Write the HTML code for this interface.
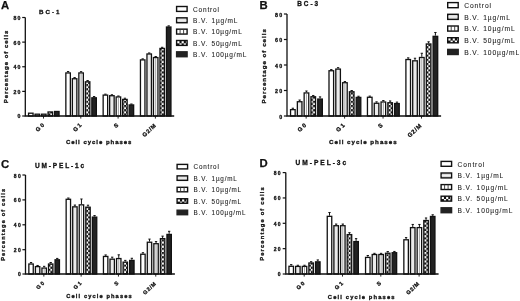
<!DOCTYPE html>
<html><head><meta charset="utf-8"><title>Cell cycle phases</title>
<style>
html,body{margin:0;padding:0;background:#fff;}
body{width:520px;height:301px;overflow:hidden;font-family:"Liberation Sans", sans-serif;}
svg{display:block;filter:grayscale(1);font-family:"Liberation Sans", sans-serif;}
</style></head><body>
<svg width="520" height="301" viewBox="0 0 520 301">
<defs>
<pattern id="p1" width="4" height="1.6" patternUnits="userSpaceOnUse"><rect width="4" height="1.6" fill="#e9e9e9"/></pattern>
<pattern id="p2" width="3.4" height="4" patternUnits="userSpaceOnUse"><rect width="3.4" height="4" fill="#fff"/><rect x="1.2" width="0.6" height="4" fill="#999"/></pattern>
<pattern id="p3" width="4.2" height="4.2" patternUnits="userSpaceOnUse"><rect width="4.2" height="4.2" fill="#111"/><rect x="0" y="0" width="2.1" height="2.1" fill="#fff"/><rect x="2.1" y="2.1" width="2.1" height="2.1" fill="#fff"/></pattern>
</defs>
<g id="panelA"><text x="1" y="9.2" font-size="11.3" font-weight="bold" text-anchor="start" letter-spacing="0" fill="#111"  stroke="#111" stroke-width="0.25">A</text>
<text x="39" y="14" font-size="6.2" font-weight="bold" text-anchor="start" letter-spacing="2" fill="#111"  stroke="#111" stroke-width="0.3">BC-1</text>
<rect x="28.55" y="113.2" width="4.5" height="2.8" fill="#fff" stroke="#111" stroke-width="1.3"/>
<rect x="35.05" y="114.19" width="4.5" height="1.81" fill="#ebebeb" stroke="#111" stroke-width="1.3"/>
<rect x="41.55" y="114.19" width="4.5" height="1.81" fill="#fff" stroke="#111" stroke-width="1.3"/>
<rect x="48.05" y="111.97" width="4.5" height="4.03" fill="url(#p3)" stroke="#111" stroke-width="1.3"/>
<rect x="54.55" y="111.48" width="4.5" height="4.52" fill="#222" stroke="#111" stroke-width="1.3"/>
<rect x="65.85" y="72.94" width="4.5" height="43.06" fill="#fff" stroke="#111" stroke-width="1.3"/>
<path d="M68.1 72.29V71.55M66.95 71.55H69.25" stroke="#111" stroke-width="1.0" fill="none"/>
<rect x="72.35" y="78.73" width="4.5" height="37.27" fill="#ebebeb" stroke="#111" stroke-width="1.3"/>
<path d="M74.6 78.08V77.58M73.45 77.58H75.75" stroke="#111" stroke-width="1.0" fill="none"/>
<rect x="78.85" y="72.94" width="4.5" height="43.06" fill="#fff" stroke="#111" stroke-width="1.3"/>
<path d="M81.1 73.39V115.4" stroke="#8a8a8a" stroke-width="0.8"/>
<path d="M81.1 72.29V71.68M79.95 71.68H82.25" stroke="#111" stroke-width="1.0" fill="none"/>
<rect x="85.35" y="81.81" width="4.5" height="34.19" fill="url(#p3)" stroke="#111" stroke-width="1.3"/>
<path d="M87.6 81.16V80.54M86.45 80.54H88.75" stroke="#111" stroke-width="1.0" fill="none"/>
<rect x="91.85" y="97.81" width="4.5" height="18.19" fill="#222" stroke="#111" stroke-width="1.3"/>
<path d="M94.1 97.16V96.55M92.95 96.55H95.25" stroke="#111" stroke-width="1.0" fill="none"/>
<rect x="103.15" y="95.1" width="4.5" height="20.9" fill="#fff" stroke="#111" stroke-width="1.3"/>
<path d="M105.4 94.45V94.15M104.25 94.15H106.55" stroke="#111" stroke-width="1.0" fill="none"/>
<rect x="109.65" y="95.72" width="4.5" height="20.28" fill="#ebebeb" stroke="#111" stroke-width="1.3"/>
<path d="M111.9 95.07V94.76M110.75 94.76H113.05" stroke="#111" stroke-width="1.0" fill="none"/>
<rect x="116.15" y="96.95" width="4.5" height="19.05" fill="#fff" stroke="#111" stroke-width="1.3"/>
<path d="M118.4 97.4V115.4" stroke="#8a8a8a" stroke-width="0.8"/>
<path d="M118.4 96.3V95.99M117.25 95.99H119.55" stroke="#111" stroke-width="1.0" fill="none"/>
<rect x="122.65" y="99.41" width="4.5" height="16.59" fill="url(#p3)" stroke="#111" stroke-width="1.3"/>
<path d="M124.9 98.76V98.21M123.75 98.21H126.05" stroke="#111" stroke-width="1.0" fill="none"/>
<rect x="129.15" y="104.95" width="4.5" height="11.05" fill="#222" stroke="#111" stroke-width="1.3"/>
<path d="M131.4 104.3V104M130.25 104H132.55" stroke="#111" stroke-width="1.0" fill="none"/>
<rect x="140.45" y="59.89" width="4.5" height="56.11" fill="#fff" stroke="#111" stroke-width="1.3"/>
<path d="M142.7 59.24V58.87M141.55 58.87H143.85" stroke="#111" stroke-width="1.0" fill="none"/>
<rect x="146.95" y="53.98" width="4.5" height="62.02" fill="#ebebeb" stroke="#111" stroke-width="1.3"/>
<path d="M149.2 53.33V52.96M148.05 52.96H150.35" stroke="#111" stroke-width="1.0" fill="none"/>
<rect x="153.45" y="57.55" width="4.5" height="58.45" fill="#fff" stroke="#111" stroke-width="1.3"/>
<path d="M155.7 58V115.4" stroke="#8a8a8a" stroke-width="0.8"/>
<path d="M155.7 56.9V56.53M154.55 56.53H156.85" stroke="#111" stroke-width="1.0" fill="none"/>
<rect x="159.95" y="48.44" width="4.5" height="67.56" fill="url(#p3)" stroke="#111" stroke-width="1.3"/>
<path d="M162.2 47.79V47.3M161.05 47.3H163.35" stroke="#111" stroke-width="1.0" fill="none"/>
<rect x="166.45" y="27.02" width="4.5" height="88.98" fill="#222" stroke="#111" stroke-width="1.3"/>
<path d="M168.7 26.37V25.87M167.55 25.87H169.85" stroke="#111" stroke-width="1.0" fill="none"/>
<path d="M25.3 17.5V116H174.2" stroke="#111" stroke-width="1.3" fill="none"/>
<path d="M22.2 116H25.3" stroke="#111" stroke-width="1.2"/>
<text x="21.8" y="118.47" font-size="5.2" font-weight="bold" text-anchor="end" letter-spacing="1.3" fill="#111"  stroke="#111" stroke-width="0.3">0</text>
<path d="M22.2 91.38H25.3" stroke="#111" stroke-width="1.2"/>
<text x="21.8" y="93.85" font-size="5.2" font-weight="bold" text-anchor="end" letter-spacing="1.3" fill="#111"  stroke="#111" stroke-width="0.3">20</text>
<path d="M22.2 66.75H25.3" stroke="#111" stroke-width="1.2"/>
<text x="21.8" y="69.22" font-size="5.2" font-weight="bold" text-anchor="end" letter-spacing="1.3" fill="#111"  stroke="#111" stroke-width="0.3">40</text>
<path d="M22.2 42.12H25.3" stroke="#111" stroke-width="1.2"/>
<text x="21.8" y="44.6" font-size="5.2" font-weight="bold" text-anchor="end" letter-spacing="1.3" fill="#111"  stroke="#111" stroke-width="0.3">60</text>
<path d="M22.2 17.5H25.3" stroke="#111" stroke-width="1.2"/>
<text x="21.8" y="19.97" font-size="5.2" font-weight="bold" text-anchor="end" letter-spacing="1.3" fill="#111"  stroke="#111" stroke-width="0.3">80</text>
<path d="M43.5 116V118.6" stroke="#111" stroke-width="0.9"/>
<text transform="translate(45.81,124.57) rotate(-43)" stroke="#111" stroke-width="0.3" font-size="5.7" font-weight="bold" text-anchor="end" letter-spacing="1.65" fill="#111">G0</text>
<path d="M80.8 116V118.6" stroke="#111" stroke-width="0.9"/>
<text transform="translate(83.11,124.57) rotate(-43)" stroke="#111" stroke-width="0.3" font-size="5.7" font-weight="bold" text-anchor="end" letter-spacing="1.65" fill="#111">G1</text>
<path d="M118.1 116V118.6" stroke="#111" stroke-width="0.9"/>
<text transform="translate(119.73,124.73) rotate(-43)" stroke="#111" stroke-width="0.3" font-size="5.7" font-weight="bold" text-anchor="end" letter-spacing="1.2" fill="#111">S</text>
<path d="M155.4 116V118.6" stroke="#111" stroke-width="0.9"/>
<text transform="translate(156.75,125.79) rotate(-43)" stroke="#111" stroke-width="0.3" font-size="5.7" font-weight="bold" text-anchor="end" letter-spacing="0.75" fill="#111">G2/M</text>
<text x="99.15" y="144" font-size="6" font-weight="bold" text-anchor="middle" letter-spacing="0.97" fill="#111"  stroke="#111" stroke-width="0.3">Cell cycle phases</text>
<text transform="translate(7.5,66.5) rotate(-90)" font-size="6" font-weight="bold" text-anchor="middle" letter-spacing="0.99" fill="#111" stroke="#111" stroke-width="0.3">Percentage of cells</text>
<rect x="176.6" y="6.5" width="10.5" height="4.9" fill="#fff" stroke="#111" stroke-width="1.4"/>
<text x="193.1" y="11.7" font-size="6.5" font-weight="normal" text-anchor="start" letter-spacing="0.82" fill="#222" word-spacing="0.8" stroke="#222" stroke-width="0.08">Control</text>
<rect x="176.6" y="17.83" width="10.5" height="4.9" fill="#dcdcdc" stroke="#111" stroke-width="1.4"/>
<path d="M177.3 20.28H186.4" stroke="#f4f4f4" stroke-width="0.9"/>
<text x="193.1" y="23.03" font-size="6.5" font-weight="normal" text-anchor="start" letter-spacing="0.82" fill="#222" word-spacing="0.8" stroke="#222" stroke-width="0.08">B.V. 1µg/mL</text>
<rect x="176.6" y="29.16" width="10.5" height="4.9" fill="#fff" stroke="#111" stroke-width="1.4"/>
<path d="M180.1 29.16V34.06M183.6 29.16V34.06" stroke="#333" stroke-width="0.9"/>
<text x="193.1" y="34.36" font-size="6.5" font-weight="normal" text-anchor="start" letter-spacing="0.82" fill="#222" word-spacing="0.8" stroke="#222" stroke-width="0.08">B.V. 10µg/mL</text>
<rect x="176.6" y="40.49" width="10.5" height="4.9" fill="#111" stroke="#111" stroke-width="1.4"/>
<rect x="177.3" y="41.19" width="2.15" height="2.15" fill="#fff"/>
<rect x="181.6" y="41.19" width="2.15" height="2.15" fill="#fff"/>
<rect x="185.9" y="41.19" width="0.5" height="2.15" fill="#fff"/>
<rect x="179.45" y="43.34" width="2.15" height="1.35" fill="#fff"/>
<rect x="183.75" y="43.34" width="2.15" height="1.35" fill="#fff"/>
<text x="193.1" y="45.69" font-size="6.5" font-weight="normal" text-anchor="start" letter-spacing="0.82" fill="#222" word-spacing="0.8" stroke="#222" stroke-width="0.08">B.V. 50µg/mL</text>
<rect x="176.6" y="51.82" width="10.5" height="4.9" fill="#222" stroke="#222" stroke-width="1.4"/>
<text x="193.1" y="57.02" font-size="6.5" font-weight="normal" text-anchor="start" letter-spacing="0.82" fill="#222" word-spacing="0.8" stroke="#222" stroke-width="0.08">B.V. 100µg/mL</text></g>
<g id="panelB"><text x="259.4" y="9" font-size="11.3" font-weight="bold" text-anchor="start" letter-spacing="0" fill="#111"  stroke="#111" stroke-width="0.25">B</text>
<text x="297.2" y="6" font-size="6.4" font-weight="bold" text-anchor="start" letter-spacing="2" fill="#111"  stroke="#111" stroke-width="0.3">BC-3</text>
<rect x="290.55" y="109.64" width="4.6" height="6.36" fill="#fff" stroke="#111" stroke-width="1.3"/>
<path d="M292.85 108.99V108.22M291.7 108.22H294" stroke="#111" stroke-width="1.0" fill="none"/>
<rect x="297.35" y="101.73" width="4.6" height="14.27" fill="#ebebeb" stroke="#111" stroke-width="1.3"/>
<path d="M299.65 101.08V100.06M298.5 100.06H300.8" stroke="#111" stroke-width="1.0" fill="none"/>
<rect x="304.15" y="92.94" width="4.6" height="23.07" fill="#fff" stroke="#111" stroke-width="1.3"/>
<path d="M306.45 93.38V115.4" stroke="#8a8a8a" stroke-width="0.8"/>
<path d="M306.45 92.28V91.01M305.3 91.01H307.6" stroke="#111" stroke-width="1.0" fill="none"/>
<rect x="310.95" y="96.76" width="4.6" height="19.24" fill="url(#p3)" stroke="#111" stroke-width="1.3"/>
<path d="M313.25 96.11V95.47M312.1 95.47H314.4" stroke="#111" stroke-width="1.0" fill="none"/>
<rect x="317.75" y="99.06" width="4.6" height="16.95" fill="#222" stroke="#111" stroke-width="1.3"/>
<path d="M320.05 98.41V96.88M318.9 96.88H321.2" stroke="#111" stroke-width="1.0" fill="none"/>
<rect x="329" y="70.75" width="4.6" height="45.25" fill="#fff" stroke="#111" stroke-width="1.3"/>
<path d="M331.3 70.1V69.59M330.15 69.59H332.45" stroke="#111" stroke-width="1.0" fill="none"/>
<rect x="335.8" y="69.09" width="4.6" height="46.91" fill="#ebebeb" stroke="#111" stroke-width="1.3"/>
<path d="M338.1 68.44V67.68M336.95 67.68H339.25" stroke="#111" stroke-width="1.0" fill="none"/>
<rect x="342.6" y="82.74" width="4.6" height="33.26" fill="#fff" stroke="#111" stroke-width="1.3"/>
<path d="M344.9 83.19V115.4" stroke="#8a8a8a" stroke-width="0.8"/>
<path d="M344.9 82.09V81.58M343.75 81.58H346.05" stroke="#111" stroke-width="1.0" fill="none"/>
<rect x="349.4" y="91.79" width="4.6" height="24.21" fill="url(#p3)" stroke="#111" stroke-width="1.3"/>
<path d="M351.7 91.14V90.5M350.55 90.5H352.85" stroke="#111" stroke-width="1.0" fill="none"/>
<rect x="356.2" y="97.4" width="4.6" height="18.6" fill="#222" stroke="#111" stroke-width="1.3"/>
<path d="M358.5 96.75V96.24M357.35 96.24H359.65" stroke="#111" stroke-width="1.0" fill="none"/>
<rect x="367.45" y="97.27" width="4.6" height="18.73" fill="#fff" stroke="#111" stroke-width="1.3"/>
<path d="M369.75 96.62V96.11M368.6 96.11H370.9" stroke="#111" stroke-width="1.0" fill="none"/>
<rect x="374.25" y="103.26" width="4.6" height="12.74" fill="#ebebeb" stroke="#111" stroke-width="1.3"/>
<path d="M376.55 102.61V101.85M375.4 101.85H377.7" stroke="#111" stroke-width="1.0" fill="none"/>
<rect x="381.05" y="101.99" width="4.6" height="14.01" fill="#fff" stroke="#111" stroke-width="1.3"/>
<path d="M383.35 102.44V115.4" stroke="#8a8a8a" stroke-width="0.8"/>
<path d="M383.35 101.34V100.57M382.2 100.57H384.5" stroke="#111" stroke-width="1.0" fill="none"/>
<rect x="387.85" y="102.75" width="4.6" height="13.25" fill="url(#p3)" stroke="#111" stroke-width="1.3"/>
<path d="M390.15 102.1V100.96M389 100.96H391.3" stroke="#111" stroke-width="1.0" fill="none"/>
<rect x="394.65" y="103.52" width="4.6" height="12.48" fill="#222" stroke="#111" stroke-width="1.3"/>
<path d="M396.95 102.87V102.1M395.8 102.1H398.1" stroke="#111" stroke-width="1.0" fill="none"/>
<rect x="405.9" y="59.53" width="4.6" height="56.47" fill="#fff" stroke="#111" stroke-width="1.3"/>
<path d="M408.2 58.88V57.86M407.05 57.86H409.35" stroke="#111" stroke-width="1.0" fill="none"/>
<rect x="412.7" y="60.81" width="4.6" height="55.19" fill="#ebebeb" stroke="#111" stroke-width="1.3"/>
<path d="M415 60.16V58.24M413.85 58.24H416.15" stroke="#111" stroke-width="1.0" fill="none"/>
<rect x="419.5" y="57.49" width="4.6" height="58.51" fill="#fff" stroke="#111" stroke-width="1.3"/>
<path d="M421.8 57.94V115.4" stroke="#8a8a8a" stroke-width="0.8"/>
<path d="M421.8 56.84V53.27M420.65 53.27H422.95" stroke="#111" stroke-width="1.0" fill="none"/>
<rect x="426.3" y="43.98" width="4.6" height="72.02" fill="url(#p3)" stroke="#111" stroke-width="1.3"/>
<path d="M428.6 43.33V41.8M427.45 41.8H429.75" stroke="#111" stroke-width="1.0" fill="none"/>
<rect x="433.1" y="36.33" width="4.6" height="79.67" fill="#222" stroke="#111" stroke-width="1.3"/>
<path d="M435.4 35.68V32.49M434.25 32.49H436.55" stroke="#111" stroke-width="1.0" fill="none"/>
<path d="M287 14V116H441.1" stroke="#111" stroke-width="1.3" fill="none"/>
<path d="M283.9 116H287" stroke="#111" stroke-width="1.2"/>
<text x="283.55" y="118.51" font-size="5.3" font-weight="bold" text-anchor="end" letter-spacing="1.35" fill="#111"  stroke="#111" stroke-width="0.3">0</text>
<path d="M283.9 90.5H287" stroke="#111" stroke-width="1.2"/>
<text x="283.55" y="93.01" font-size="5.3" font-weight="bold" text-anchor="end" letter-spacing="1.35" fill="#111"  stroke="#111" stroke-width="0.3">20</text>
<path d="M283.9 65H287" stroke="#111" stroke-width="1.2"/>
<text x="283.55" y="67.51" font-size="5.3" font-weight="bold" text-anchor="end" letter-spacing="1.35" fill="#111"  stroke="#111" stroke-width="0.3">40</text>
<path d="M283.9 39.5H287" stroke="#111" stroke-width="1.2"/>
<text x="283.55" y="42.01" font-size="5.3" font-weight="bold" text-anchor="end" letter-spacing="1.35" fill="#111"  stroke="#111" stroke-width="0.3">60</text>
<path d="M283.9 14H287" stroke="#111" stroke-width="1.2"/>
<text x="283.55" y="16.51" font-size="5.3" font-weight="bold" text-anchor="end" letter-spacing="1.35" fill="#111"  stroke="#111" stroke-width="0.3">80</text>
<path d="M306.15 116V118.6" stroke="#111" stroke-width="0.9"/>
<text transform="translate(307.86,124.77) rotate(-43)" stroke="#111" stroke-width="0.3" font-size="5.8" font-weight="bold" text-anchor="end" letter-spacing="1.65" fill="#111">G0</text>
<path d="M344.6 116V118.6" stroke="#111" stroke-width="0.9"/>
<text transform="translate(346.31,124.77) rotate(-43)" stroke="#111" stroke-width="0.3" font-size="5.8" font-weight="bold" text-anchor="end" letter-spacing="1.65" fill="#111">G1</text>
<path d="M383.05 116V118.6" stroke="#111" stroke-width="0.9"/>
<text transform="translate(384.08,124.93) rotate(-43)" stroke="#111" stroke-width="0.3" font-size="5.8" font-weight="bold" text-anchor="end" letter-spacing="1.2" fill="#111">S</text>
<path d="M421.5 116V118.6" stroke="#111" stroke-width="0.9"/>
<text transform="translate(422.25,125.99) rotate(-43)" stroke="#111" stroke-width="0.3" font-size="5.8" font-weight="bold" text-anchor="end" letter-spacing="0.75" fill="#111">G2/M</text>
<text x="363.35" y="144" font-size="6.2" font-weight="bold" text-anchor="middle" letter-spacing="1" fill="#111"  stroke="#111" stroke-width="0.3">Cell cycle phases</text>
<text transform="translate(266,65.8) rotate(-90)" font-size="6.2" font-weight="bold" text-anchor="middle" letter-spacing="1" fill="#111" stroke="#111" stroke-width="0.3">Percentage of cells</text>
<rect x="447.7" y="2.6" width="10.5" height="5.1" fill="#fff" stroke="#111" stroke-width="1.4"/>
<text x="464.2" y="8" font-size="6.7" font-weight="normal" text-anchor="start" letter-spacing="0.87" fill="#222" word-spacing="0.8" stroke="#222" stroke-width="0.08">Control</text>
<rect x="447.7" y="14.3" width="10.5" height="5.1" fill="#dcdcdc" stroke="#111" stroke-width="1.4"/>
<path d="M448.4 16.85H457.5" stroke="#f4f4f4" stroke-width="0.9"/>
<text x="464.2" y="19.7" font-size="6.7" font-weight="normal" text-anchor="start" letter-spacing="0.87" fill="#222" word-spacing="0.8" stroke="#222" stroke-width="0.08">B.V. 1µg/mL</text>
<rect x="447.7" y="26" width="10.5" height="5.1" fill="#fff" stroke="#111" stroke-width="1.4"/>
<path d="M451.2 26V31.1M454.7 26V31.1" stroke="#333" stroke-width="0.9"/>
<text x="464.2" y="31.4" font-size="6.7" font-weight="normal" text-anchor="start" letter-spacing="0.87" fill="#222" word-spacing="0.8" stroke="#222" stroke-width="0.08">B.V. 10µg/mL</text>
<rect x="447.7" y="37.7" width="10.5" height="5.1" fill="#111" stroke="#111" stroke-width="1.4"/>
<rect x="448.4" y="38.4" width="2.15" height="2.15" fill="#fff"/>
<rect x="452.7" y="38.4" width="2.15" height="2.15" fill="#fff"/>
<rect x="457" y="38.4" width="0.5" height="2.15" fill="#fff"/>
<rect x="450.55" y="40.55" width="2.15" height="1.55" fill="#fff"/>
<rect x="454.85" y="40.55" width="2.15" height="1.55" fill="#fff"/>
<text x="464.2" y="43.1" font-size="6.7" font-weight="normal" text-anchor="start" letter-spacing="0.87" fill="#222" word-spacing="0.8" stroke="#222" stroke-width="0.08">B.V. 50µg/mL</text>
<rect x="447.7" y="49.4" width="10.5" height="5.1" fill="#222" stroke="#222" stroke-width="1.4"/>
<text x="464.2" y="54.8" font-size="6.7" font-weight="normal" text-anchor="start" letter-spacing="0.87" fill="#222" word-spacing="0.8" stroke="#222" stroke-width="0.08">B.V. 100µg/mL</text></g>
<g id="panelC"><text x="1" y="167.8" font-size="11.3" font-weight="bold" text-anchor="start" letter-spacing="0" fill="#111"  stroke="#111" stroke-width="0.25">C</text>
<text x="35" y="168" font-size="6.5" font-weight="bold" text-anchor="start" letter-spacing="1.85" fill="#111"  stroke="#111" stroke-width="0.3">UM-PEL-1c</text>
<rect x="28.85" y="264.01" width="4.4" height="9.99" fill="#fff" stroke="#111" stroke-width="1.3"/>
<path d="M31.05 263.36V262.49M29.9 262.49H32.2" stroke="#111" stroke-width="1.0" fill="none"/>
<rect x="35.4" y="266.61" width="4.4" height="7.39" fill="#ebebeb" stroke="#111" stroke-width="1.3"/>
<path d="M37.6 265.96V265.46M36.45 265.46H38.75" stroke="#111" stroke-width="1.0" fill="none"/>
<rect x="41.95" y="268.09" width="4.4" height="5.91" fill="#fff" stroke="#111" stroke-width="1.3"/>
<path d="M44.15 268.54V273.4" stroke="#8a8a8a" stroke-width="0.8"/>
<path d="M44.15 267.44V266.33M43 266.33H45.3" stroke="#111" stroke-width="1.0" fill="none"/>
<rect x="48.5" y="264.01" width="4.4" height="9.99" fill="url(#p3)" stroke="#111" stroke-width="1.3"/>
<path d="M50.7 263.36V262.49M49.55 262.49H51.85" stroke="#111" stroke-width="1.0" fill="none"/>
<rect x="55.05" y="259.8" width="4.4" height="14.2" fill="#222" stroke="#111" stroke-width="1.3"/>
<path d="M57.25 259.15V258.41M56.1 258.41H58.4" stroke="#111" stroke-width="1.0" fill="none"/>
<rect x="66.15" y="199.29" width="4.4" height="74.71" fill="#fff" stroke="#111" stroke-width="1.3"/>
<path d="M68.35 198.64V198.02M67.2 198.02H69.5" stroke="#111" stroke-width="1.0" fill="none"/>
<rect x="72.7" y="206.84" width="4.4" height="67.16" fill="#ebebeb" stroke="#111" stroke-width="1.3"/>
<path d="M74.9 206.19V205.07M73.75 205.07H76.05" stroke="#111" stroke-width="1.0" fill="none"/>
<rect x="79.25" y="204.85" width="4.4" height="69.15" fill="#fff" stroke="#111" stroke-width="1.3"/>
<path d="M81.45 205.3V273.4" stroke="#8a8a8a" stroke-width="0.8"/>
<path d="M81.45 204.2V199.01M80.3 199.01H82.6" stroke="#111" stroke-width="1.0" fill="none"/>
<rect x="85.8" y="207.21" width="4.4" height="66.79" fill="url(#p3)" stroke="#111" stroke-width="1.3"/>
<path d="M88 206.56V205.19M86.85 205.19H89.15" stroke="#111" stroke-width="1.0" fill="none"/>
<rect x="92.35" y="217.11" width="4.4" height="56.89" fill="#222" stroke="#111" stroke-width="1.3"/>
<path d="M94.55 216.46V215.59M93.4 215.59H95.7" stroke="#111" stroke-width="1.0" fill="none"/>
<rect x="103.45" y="256.46" width="4.4" height="17.54" fill="#fff" stroke="#111" stroke-width="1.3"/>
<path d="M105.65 255.81V254.94M104.5 254.94H106.8" stroke="#111" stroke-width="1.0" fill="none"/>
<rect x="110" y="259.18" width="4.4" height="14.82" fill="#ebebeb" stroke="#111" stroke-width="1.3"/>
<path d="M112.2 258.53V257.17M111.05 257.17H113.35" stroke="#111" stroke-width="1.0" fill="none"/>
<rect x="116.55" y="258.56" width="4.4" height="15.44" fill="#fff" stroke="#111" stroke-width="1.3"/>
<path d="M118.75 259.01V273.4" stroke="#8a8a8a" stroke-width="0.8"/>
<path d="M118.75 257.91V254.82M117.6 254.82H119.9" stroke="#111" stroke-width="1.0" fill="none"/>
<rect x="123.1" y="262.15" width="4.4" height="11.85" fill="url(#p3)" stroke="#111" stroke-width="1.3"/>
<path d="M125.3 261.5V260.39M124.15 260.39H126.45" stroke="#111" stroke-width="1.0" fill="none"/>
<rect x="129.65" y="260.42" width="4.4" height="13.58" fill="#222" stroke="#111" stroke-width="1.3"/>
<path d="M131.85 259.77V258.28M130.7 258.28H133" stroke="#111" stroke-width="1.0" fill="none"/>
<rect x="140.75" y="254.23" width="4.4" height="19.77" fill="#fff" stroke="#111" stroke-width="1.3"/>
<path d="M142.95 253.58V252.72M141.8 252.72H144.1" stroke="#111" stroke-width="1.0" fill="none"/>
<rect x="147.3" y="242.23" width="4.4" height="31.77" fill="#ebebeb" stroke="#111" stroke-width="1.3"/>
<path d="M149.5 241.58V239.1M148.35 239.1H150.65" stroke="#111" stroke-width="1.0" fill="none"/>
<rect x="153.85" y="243.71" width="4.4" height="30.29" fill="#fff" stroke="#111" stroke-width="1.3"/>
<path d="M156.05 244.16V273.4" stroke="#8a8a8a" stroke-width="0.8"/>
<path d="M156.05 243.06V241.58M154.9 241.58H157.2" stroke="#111" stroke-width="1.0" fill="none"/>
<rect x="160.4" y="238.64" width="4.4" height="35.36" fill="url(#p3)" stroke="#111" stroke-width="1.3"/>
<path d="M162.6 237.99V236.13M161.45 236.13H163.75" stroke="#111" stroke-width="1.0" fill="none"/>
<rect x="166.95" y="234.43" width="4.4" height="39.57" fill="#222" stroke="#111" stroke-width="1.3"/>
<path d="M169.15 233.78V231.31M168 231.31H170.3" stroke="#111" stroke-width="1.0" fill="none"/>
<path d="M25.5 175V274H174.9" stroke="#111" stroke-width="1.3" fill="none"/>
<path d="M22.4 274H25.5" stroke="#111" stroke-width="1.2"/>
<text x="22.1" y="276.4" font-size="5" font-weight="bold" text-anchor="end" letter-spacing="1.4" fill="#111"  stroke="#111" stroke-width="0.3">0</text>
<path d="M22.4 249.7H25.5" stroke="#111" stroke-width="1.2"/>
<text x="22.1" y="252.1" font-size="5" font-weight="bold" text-anchor="end" letter-spacing="1.4" fill="#111"  stroke="#111" stroke-width="0.3">20</text>
<path d="M22.4 224.8H25.5" stroke="#111" stroke-width="1.2"/>
<text x="22.1" y="227.2" font-size="5" font-weight="bold" text-anchor="end" letter-spacing="1.4" fill="#111"  stroke="#111" stroke-width="0.3">40</text>
<path d="M22.4 199.9H25.5" stroke="#111" stroke-width="1.2"/>
<text x="22.1" y="202.3" font-size="5" font-weight="bold" text-anchor="end" letter-spacing="1.4" fill="#111"  stroke="#111" stroke-width="0.3">60</text>
<path d="M22.4 175H25.5" stroke="#111" stroke-width="1.2"/>
<text x="22.1" y="178" font-size="5" font-weight="bold" text-anchor="end" letter-spacing="1.4" fill="#111"  stroke="#111" stroke-width="0.3">80</text>
<path d="M43.85 274V276.6" stroke="#111" stroke-width="0.9"/>
<text transform="translate(45.96,282.67) rotate(-43)" stroke="#111" stroke-width="0.3" font-size="5.4" font-weight="bold" text-anchor="end" letter-spacing="1.65" fill="#111">G0</text>
<path d="M81.15 274V276.6" stroke="#111" stroke-width="0.9"/>
<text transform="translate(83.26,282.67) rotate(-43)" stroke="#111" stroke-width="0.3" font-size="5.4" font-weight="bold" text-anchor="end" letter-spacing="1.65" fill="#111">G1</text>
<path d="M118.45 274V276.6" stroke="#111" stroke-width="0.9"/>
<text transform="translate(119.88,282.83) rotate(-43)" stroke="#111" stroke-width="0.3" font-size="5.4" font-weight="bold" text-anchor="end" letter-spacing="1.2" fill="#111">S</text>
<path d="M155.75 274V276.6" stroke="#111" stroke-width="0.9"/>
<text transform="translate(156.9,283.89) rotate(-43)" stroke="#111" stroke-width="0.3" font-size="5.4" font-weight="bold" text-anchor="end" letter-spacing="0.75" fill="#111">G2/M</text>
<text x="99.5" y="298" font-size="5.7" font-weight="bold" text-anchor="middle" letter-spacing="1.12" fill="#111"  stroke="#111" stroke-width="0.3">Cell cycle phases</text>
<text transform="translate(5.3,224.3) rotate(-90)" font-size="5.7" font-weight="bold" text-anchor="middle" letter-spacing="1.12" fill="#111" stroke="#111" stroke-width="0.3">Percentage of cells</text>
<rect x="177.1" y="164.4" width="10.5" height="4.5" fill="#fff" stroke="#111" stroke-width="1.4"/>
<text x="193.6" y="169.2" font-size="6.3" font-weight="normal" text-anchor="start" letter-spacing="0.82" fill="#222" word-spacing="0.8" stroke="#222" stroke-width="0.08">Control</text>
<rect x="177.1" y="175.85" width="10.5" height="4.5" fill="#dcdcdc" stroke="#111" stroke-width="1.4"/>
<path d="M177.8 178.1H186.9" stroke="#f4f4f4" stroke-width="0.9"/>
<text x="193.6" y="180.65" font-size="6.3" font-weight="normal" text-anchor="start" letter-spacing="0.82" fill="#222" word-spacing="0.8" stroke="#222" stroke-width="0.08">B.V. 1µg/mL</text>
<rect x="177.1" y="187.3" width="10.5" height="4.5" fill="#fff" stroke="#111" stroke-width="1.4"/>
<path d="M180.6 187.3V191.8M184.1 187.3V191.8" stroke="#333" stroke-width="0.9"/>
<text x="193.6" y="192.1" font-size="6.3" font-weight="normal" text-anchor="start" letter-spacing="0.82" fill="#222" word-spacing="0.8" stroke="#222" stroke-width="0.08">B.V. 10µg/mL</text>
<rect x="177.1" y="198.75" width="10.5" height="4.5" fill="#111" stroke="#111" stroke-width="1.4"/>
<rect x="177.8" y="199.45" width="2.15" height="2.15" fill="#fff"/>
<rect x="182.1" y="199.45" width="2.15" height="2.15" fill="#fff"/>
<rect x="186.4" y="199.45" width="0.5" height="2.15" fill="#fff"/>
<rect x="179.95" y="201.6" width="2.15" height="0.95" fill="#fff"/>
<rect x="184.25" y="201.6" width="2.15" height="0.95" fill="#fff"/>
<text x="193.6" y="203.55" font-size="6.3" font-weight="normal" text-anchor="start" letter-spacing="0.82" fill="#222" word-spacing="0.8" stroke="#222" stroke-width="0.08">B.V. 50µg/mL</text>
<rect x="177.1" y="210.2" width="10.5" height="4.5" fill="#222" stroke="#222" stroke-width="1.4"/>
<text x="193.6" y="215" font-size="6.3" font-weight="normal" text-anchor="start" letter-spacing="0.82" fill="#222" word-spacing="0.8" stroke="#222" stroke-width="0.08">B.V. 100µg/mL</text></g>
<g id="panelD"><text x="259.4" y="167" font-size="11.3" font-weight="bold" text-anchor="start" letter-spacing="0" fill="#111"  stroke="#111" stroke-width="0.25">D</text>
<text x="295.5" y="165" font-size="6.6" font-weight="bold" text-anchor="start" letter-spacing="1.98" fill="#111"  stroke="#111" stroke-width="0.3">UM-PEL-3c</text>
<rect x="288.95" y="266.28" width="4.5" height="7.72" fill="#fff" stroke="#111" stroke-width="1.3"/>
<path d="M291.2 265.63V264.62M290.05 264.62H292.35" stroke="#111" stroke-width="1.0" fill="none"/>
<rect x="295.6" y="266.41" width="4.5" height="7.59" fill="#ebebeb" stroke="#111" stroke-width="1.3"/>
<path d="M297.85 265.76V265.25M296.7 265.25H299" stroke="#111" stroke-width="1.0" fill="none"/>
<rect x="302.25" y="266.41" width="4.5" height="7.59" fill="#fff" stroke="#111" stroke-width="1.3"/>
<path d="M304.5 266.86V273.4" stroke="#8a8a8a" stroke-width="0.8"/>
<path d="M304.5 265.76V265.25M303.35 265.25H305.65" stroke="#111" stroke-width="1.0" fill="none"/>
<rect x="308.9" y="262.99" width="4.5" height="11.01" fill="url(#p3)" stroke="#111" stroke-width="1.3"/>
<path d="M311.15 262.34V261.71M310 261.71H312.3" stroke="#111" stroke-width="1.0" fill="none"/>
<rect x="315.55" y="261.85" width="4.5" height="12.15" fill="#222" stroke="#111" stroke-width="1.3"/>
<path d="M317.8 261.2V259.93M316.65 259.93H318.95" stroke="#111" stroke-width="1.0" fill="none"/>
<rect x="327.25" y="216.34" width="4.5" height="57.66" fill="#fff" stroke="#111" stroke-width="1.3"/>
<path d="M329.5 215.69V212.53M328.35 212.53H330.65" stroke="#111" stroke-width="1.0" fill="none"/>
<rect x="333.9" y="225.72" width="4.5" height="48.28" fill="#ebebeb" stroke="#111" stroke-width="1.3"/>
<path d="M336.15 225.07V224.06M335 224.06H337.3" stroke="#111" stroke-width="1.0" fill="none"/>
<rect x="340.55" y="225.72" width="4.5" height="48.28" fill="#fff" stroke="#111" stroke-width="1.3"/>
<path d="M342.8 226.17V273.4" stroke="#8a8a8a" stroke-width="0.8"/>
<path d="M342.8 225.07V224.06M341.65 224.06H343.95" stroke="#111" stroke-width="1.0" fill="none"/>
<rect x="347.2" y="234.6" width="4.5" height="39.4" fill="url(#p3)" stroke="#111" stroke-width="1.3"/>
<path d="M349.45 233.95V232.68M348.3 232.68H350.6" stroke="#111" stroke-width="1.0" fill="none"/>
<rect x="353.85" y="241.57" width="4.5" height="32.43" fill="#222" stroke="#111" stroke-width="1.3"/>
<path d="M356.1 240.92V238.64M354.95 238.64H357.25" stroke="#111" stroke-width="1.0" fill="none"/>
<rect x="365.55" y="257.41" width="4.5" height="16.59" fill="#fff" stroke="#111" stroke-width="1.3"/>
<path d="M367.8 256.76V255.49M366.65 255.49H368.95" stroke="#111" stroke-width="1.0" fill="none"/>
<rect x="372.2" y="254.5" width="4.5" height="19.5" fill="#ebebeb" stroke="#111" stroke-width="1.3"/>
<path d="M374.45 253.85V253.34M373.3 253.34H375.6" stroke="#111" stroke-width="1.0" fill="none"/>
<rect x="378.85" y="254.5" width="4.5" height="19.5" fill="#fff" stroke="#111" stroke-width="1.3"/>
<path d="M381.1 254.95V273.4" stroke="#8a8a8a" stroke-width="0.8"/>
<path d="M381.1 253.85V253.34M379.95 253.34H382.25" stroke="#111" stroke-width="1.0" fill="none"/>
<rect x="385.5" y="253.23" width="4.5" height="20.77" fill="url(#p3)" stroke="#111" stroke-width="1.3"/>
<path d="M387.75 252.58V251.57M386.6 251.57H388.9" stroke="#111" stroke-width="1.0" fill="none"/>
<rect x="392.15" y="252.72" width="4.5" height="21.28" fill="#222" stroke="#111" stroke-width="1.3"/>
<path d="M394.4 252.07V251.44M393.25 251.44H395.55" stroke="#111" stroke-width="1.0" fill="none"/>
<rect x="403.85" y="239.79" width="4.5" height="34.21" fill="#fff" stroke="#111" stroke-width="1.3"/>
<path d="M406.1 239.14V237.62M404.95 237.62H407.25" stroke="#111" stroke-width="1.0" fill="none"/>
<rect x="410.5" y="227.63" width="4.5" height="46.37" fill="#ebebeb" stroke="#111" stroke-width="1.3"/>
<path d="M412.75 226.98V224.44M411.6 224.44H413.9" stroke="#111" stroke-width="1.0" fill="none"/>
<rect x="417.15" y="227.63" width="4.5" height="46.37" fill="#fff" stroke="#111" stroke-width="1.3"/>
<path d="M419.4 228.08V273.4" stroke="#8a8a8a" stroke-width="0.8"/>
<path d="M419.4 226.98V224.44M418.25 224.44H420.55" stroke="#111" stroke-width="1.0" fill="none"/>
<rect x="423.8" y="220.53" width="4.5" height="53.47" fill="url(#p3)" stroke="#111" stroke-width="1.3"/>
<path d="M426.05 219.88V217.98M424.9 217.98H427.2" stroke="#111" stroke-width="1.0" fill="none"/>
<rect x="430.45" y="216.47" width="4.5" height="57.53" fill="#222" stroke="#111" stroke-width="1.3"/>
<path d="M432.7 215.82V214.81M431.55 214.81H433.85" stroke="#111" stroke-width="1.0" fill="none"/>
<path d="M285.8 172.6V274H438.6" stroke="#111" stroke-width="1.3" fill="none"/>
<path d="M282.7 274H285.8" stroke="#111" stroke-width="1.2"/>
<text x="282" y="276.4" font-size="5" font-weight="bold" text-anchor="end" letter-spacing="1.4" fill="#111"  stroke="#111" stroke-width="0.3">0</text>
<path d="M282.7 248.65H285.8" stroke="#111" stroke-width="1.2"/>
<text x="282" y="251.05" font-size="5" font-weight="bold" text-anchor="end" letter-spacing="1.4" fill="#111"  stroke="#111" stroke-width="0.3">20</text>
<path d="M282.7 223.3H285.8" stroke="#111" stroke-width="1.2"/>
<text x="282" y="225.7" font-size="5" font-weight="bold" text-anchor="end" letter-spacing="1.4" fill="#111"  stroke="#111" stroke-width="0.3">40</text>
<path d="M282.7 197.95H285.8" stroke="#111" stroke-width="1.2"/>
<text x="282" y="200.35" font-size="5" font-weight="bold" text-anchor="end" letter-spacing="1.4" fill="#111"  stroke="#111" stroke-width="0.3">60</text>
<path d="M282.7 172.6H285.8" stroke="#111" stroke-width="1.2"/>
<text x="282" y="175" font-size="5" font-weight="bold" text-anchor="end" letter-spacing="1.4" fill="#111"  stroke="#111" stroke-width="0.3">80</text>
<path d="M304.2 274V276.6" stroke="#111" stroke-width="0.9"/>
<text transform="translate(306.31,282.67) rotate(-43)" stroke="#111" stroke-width="0.3" font-size="5.5" font-weight="bold" text-anchor="end" letter-spacing="1.65" fill="#111">G0</text>
<path d="M342.5 274V276.6" stroke="#111" stroke-width="0.9"/>
<text transform="translate(344.61,282.67) rotate(-43)" stroke="#111" stroke-width="0.3" font-size="5.5" font-weight="bold" text-anchor="end" letter-spacing="1.65" fill="#111">G1</text>
<path d="M380.8 274V276.6" stroke="#111" stroke-width="0.9"/>
<text transform="translate(382.23,282.83) rotate(-43)" stroke="#111" stroke-width="0.3" font-size="5.5" font-weight="bold" text-anchor="end" letter-spacing="1.2" fill="#111">S</text>
<path d="M419.1 274V276.6" stroke="#111" stroke-width="0.9"/>
<text transform="translate(420.25,283.89) rotate(-43)" stroke="#111" stroke-width="0.3" font-size="5.5" font-weight="bold" text-anchor="end" letter-spacing="0.75" fill="#111">G2/M</text>
<text x="361.8" y="299" font-size="5.8" font-weight="bold" text-anchor="middle" letter-spacing="1.15" fill="#111"  stroke="#111" stroke-width="0.3">Cell cycle phases</text>
<text transform="translate(264.2,223.5) rotate(-90)" font-size="5.8" font-weight="bold" text-anchor="middle" letter-spacing="1.15" fill="#111" stroke="#111" stroke-width="0.3">Percentage of cells</text>
<rect x="441.1" y="161.4" width="10.5" height="4.9" fill="#fff" stroke="#111" stroke-width="1.4"/>
<text x="457.6" y="166.6" font-size="6.6" font-weight="normal" text-anchor="start" letter-spacing="0.9" fill="#222" word-spacing="0.8" stroke="#222" stroke-width="0.08">Control</text>
<rect x="441.1" y="173" width="10.5" height="4.9" fill="#dcdcdc" stroke="#111" stroke-width="1.4"/>
<path d="M441.8 175.45H450.9" stroke="#f4f4f4" stroke-width="0.9"/>
<text x="457.6" y="178.2" font-size="6.6" font-weight="normal" text-anchor="start" letter-spacing="0.9" fill="#222" word-spacing="0.8" stroke="#222" stroke-width="0.08">B.V. 1µg/mL</text>
<rect x="441.1" y="184.6" width="10.5" height="4.9" fill="#fff" stroke="#111" stroke-width="1.4"/>
<path d="M444.6 184.6V189.5M448.1 184.6V189.5" stroke="#333" stroke-width="0.9"/>
<text x="457.6" y="189.8" font-size="6.6" font-weight="normal" text-anchor="start" letter-spacing="0.9" fill="#222" word-spacing="0.8" stroke="#222" stroke-width="0.08">B.V. 10µg/mL</text>
<rect x="441.1" y="196.2" width="10.5" height="4.9" fill="#111" stroke="#111" stroke-width="1.4"/>
<rect x="441.8" y="196.9" width="2.15" height="2.15" fill="#fff"/>
<rect x="446.1" y="196.9" width="2.15" height="2.15" fill="#fff"/>
<rect x="450.4" y="196.9" width="0.5" height="2.15" fill="#fff"/>
<rect x="443.95" y="199.05" width="2.15" height="1.35" fill="#fff"/>
<rect x="448.25" y="199.05" width="2.15" height="1.35" fill="#fff"/>
<text x="457.6" y="201.4" font-size="6.6" font-weight="normal" text-anchor="start" letter-spacing="0.9" fill="#222" word-spacing="0.8" stroke="#222" stroke-width="0.08">B.V. 50µg/mL</text>
<rect x="441.1" y="207.8" width="10.5" height="4.9" fill="#222" stroke="#222" stroke-width="1.4"/>
<text x="457.6" y="213" font-size="6.6" font-weight="normal" text-anchor="start" letter-spacing="0.9" fill="#222" word-spacing="0.8" stroke="#222" stroke-width="0.08">B.V. 100µg/mL</text></g>
</svg>
</body></html>
